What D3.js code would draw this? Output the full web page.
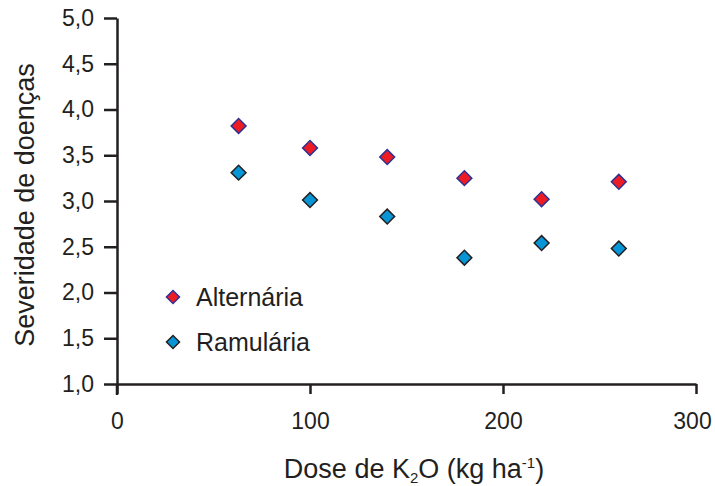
<!DOCTYPE html>
<html>
<head>
<meta charset="utf-8">
<script src="https://cdn.jsdelivr.net/npm/d3@7"></script>
<style>
  body { margin: 0; background: #fff; }
  svg { font-family: "Liberation Sans", Arial, sans-serif; }
  .axis path, .axis line { stroke: #231f20; stroke-width: 2.5; }
  .axis text { fill: #231f20; font-size: 23px; }
</style>
</head>
<body>
<svg id="chart" width="715" height="486"></svg>
<script>
const doses = [63, 100, 140, 180, 220, 260];
const alternaria = [3.82, 3.58, 3.48, 3.25, 3.02, 3.21];
const ramularia = [3.31, 3.01, 2.83, 2.38, 2.54, 2.48];
const yTicks = [1.0, 1.5, 2.0, 2.5, 3.0, 3.5, 4.0, 4.5, 5.0];
const xTicks = [0, 100, 200, 300];

const series = [
  { name: 'Alternária', values: alternaria, fill: '#ed1c24', stroke: '#2e3192' },
  { name: 'Ramulária', values: ramularia, fill: '#0895d6', stroke: '#231f20' },
];

const svg = d3.select('#chart');
const x = d3.scaleLinear().domain([0, 300]).range([117, 696]);
const y = d3.scaleLinear().domain([1, 5]).range([384, 18]);

const xAxis = svg.append('g')
  .attr('class', 'axis')
  .attr('transform', 'translate(0,384)')
  .call(d3.axisBottom(x).tickValues(xTicks).tickSize(10).tickSizeOuter(0).tickPadding(19));
// keep the last label inside the page
xAxis.selectAll('.tick:last-of-type text').attr('dx', -4);

svg.append('g')
  .attr('class', 'axis')
  .attr('transform', 'translate(117,0)')
  .call(d3.axisLeft(y).tickValues(yTicks).tickSize(13).tickSizeOuter(0).tickPadding(10)
    .tickFormat(d => d3.format('.1f')(d).replace('.', ',')));

// y axis line runs a little below the x axis
svg.append('line')
  .attr('x1', 117).attr('x2', 117).attr('y1', 384).attr('y2', 395)
  .attr('stroke', '#231f20').attr('stroke-width', 2.5);

const diamond = d3.symbol().type(d3.symbolSquare).size(110);

series.forEach(s => {
  svg.append('g').selectAll('path')
    .data(s.values)
    .join('path')
    .attr('d', diamond)
    .attr('transform', (d, i) => `translate(${x(doses[i])},${y(d)}) rotate(45)`)
    .attr('fill', s.fill)
    .attr('stroke', s.stroke)
    .attr('stroke-width', 1.5);
});

// legend
const legend = svg.append('g');
series.forEach((s, i) => {
  const ly = 297 + i * 45;
  legend.append('path')
    .attr('d', d3.symbol().type(d3.symbolSquare).size(85))
    .attr('transform', `translate(173,${ly}) rotate(45)`)
    .attr('fill', s.fill)
    .attr('stroke', s.stroke)
    .attr('stroke-width', 1.5);
  legend.append('text')
    .attr('x', 196).attr('y', ly + 9)
    .attr('font-size', 25)
    .attr('fill', '#231f20')
    .text(s.name);
});

// axis titles
svg.append('text')
  .attr('transform', 'translate(34,205) rotate(-90)')
  .attr('text-anchor', 'middle')
  .attr('font-size', 27)
  .attr('fill', '#231f20')
  .text('Severidade de doenças');

const xt = svg.append('text')
  .attr('x', 414).attr('y', 478)
  .attr('text-anchor', 'middle')
  .attr('font-size', 27)
  .attr('fill', '#231f20');
xt.append('tspan').text('Dose de K');
xt.append('tspan').attr('font-size', 15).attr('dy', 5).text('2');
xt.append('tspan').attr('dy', -5).text('O (kg ha');
xt.append('tspan').attr('font-size', 15).attr('dy', -10).text('-1');
xt.append('tspan').attr('dy', 10).text(')');
</script>
</body>
</html>
